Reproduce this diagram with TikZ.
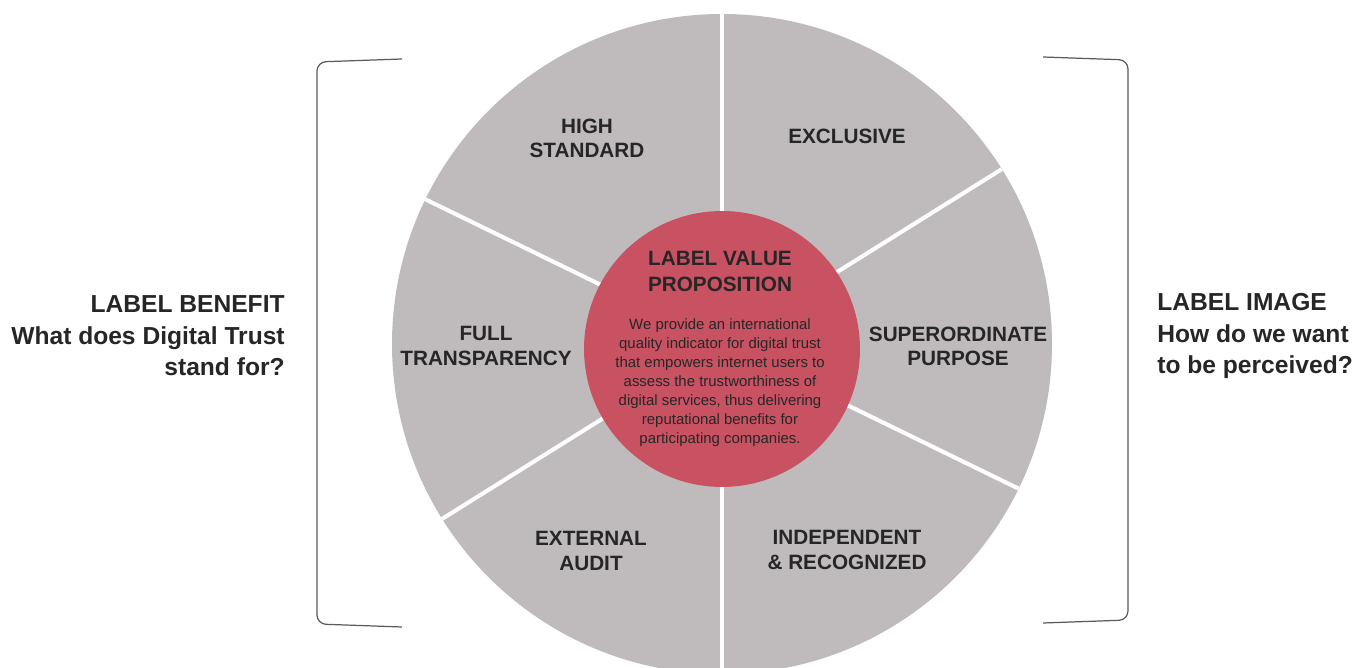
\documentclass[tikz,border=0pt]{standalone}
\usepackage{fontspec}
\setmainfont{Liberation Sans}
\usetikzlibrary{positioning}

\definecolor{segGray}{RGB}{191,187,188}
\definecolor{coreRed}{RGB}{200,82,98}
\definecolor{inkDark}{RGB}{38,38,38}
\definecolor{braceGray}{RGB}{90,90,90}

\tikzset{
  seglabel/.style={align=center, text=inkDark, font=\fontsize{11.8}{13.7}\selectfont\bfseries},
  sidelabel/.style={text=inkDark, inner sep=0pt, font=\fontsize{14}{17.9}\selectfont\bfseries},
  bodytext/.style={align=center, text=inkDark, font=\fontsize{8.5}{10.8}\selectfont},
  divider/.style={white, line width=2.3pt},
  bracket/.style={braceGray, line width=0.7pt, rounded corners=0.18cm},
}

\begin{document}
\begin{tikzpicture}[x=0.02cm, y=0.02cm]
\useasboundingbox (0,0) rectangle (1354,668);
\clip (0,0) rectangle (1354,668);

% wheel
\coordinate (c) at (722,324);
\fill[segGray] (c) circle (330);
\foreach \a in {32,90,154}
  \draw[divider] ([shift={(\a:330)}]c) -- ([shift={(\a+180:330)}]c);
\node[circle, fill=coreRed, minimum size=5.52cm, inner sep=0pt] (core) at (722,319) {};

% segments
\node[seglabel] (high) at (587,530) {HIGH\\STANDARD};
\node[seglabel] (exclusive) at (847,532) {EXCLUSIVE};
\node[seglabel] (transp) at (486,322) {FULL\\TRANSPARENCY};
\node[seglabel] (superord) at (958,322) {SUPERORDINATE\\PURPOSE};
\node[seglabel] (audit) at (591,117) {EXTERNAL\\AUDIT};
\node[seglabel] (independent) at (847,118) {INDEPENDENT\\\& RECOGNIZED};

% centre
\node[seglabel, font=\fontsize{11.8}{14.8}\selectfont\bfseries] (coretitle) at (720,397) {LABEL VALUE\\PROPOSITION};
\node[bodytext] (coretext) at (720,285) {We provide an international\\quality indicator for digital trust\\that empowers internet users to\\assess the trustworthiness of\\digital services, thus delivering\\reputational benefits for\\participating companies.};

% brackets
\draw[bracket] (402,609) -- (317,606) -- (317,44) -- (402,41);
\draw[bracket] (1043,611) -- (1128,608) -- (1128,48) -- (1043,45);

% side texts
\node[sidelabel, align=right, anchor=east] (benefit) at (285,332) {LABEL BENEFIT\\What does Digital Trust\\stand for?};
\node[sidelabel, align=left, anchor=west] (image) at (1157,332) {LABEL IMAGE\\How do we want\\to be perceived?};

\end{tikzpicture}
\end{document}
